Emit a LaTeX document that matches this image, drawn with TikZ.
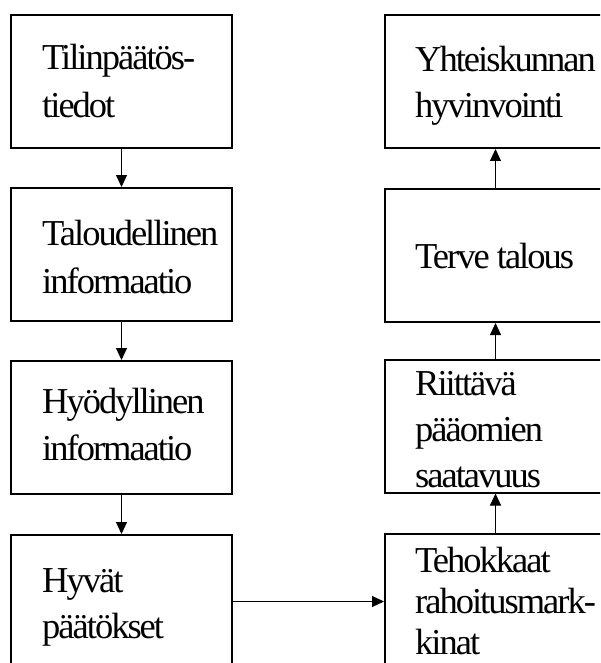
\documentclass[tikz,border=0pt]{standalone}
\usepackage{fontspec}
\setmainfont{Liberation Serif}[LetterSpace=-5.5]
\usetikzlibrary{arrows.meta}
\newcommand{\boxtext}[2]{\parbox[t]{200pt}{\raggedright\setlength{\baselineskip}{#1}\setlength{\lineskiplimit}{-100pt}#2}}
\tikzset{
  box/.style={draw=black, line width=2pt, rectangle, minimum width=221pt, minimum height=133pt, inner sep=0pt},
  txt/.style={anchor=base west, inner sep=0pt, font=\fontsize{36.5}{47}\selectfont},
  arr/.style={draw=black, line width=1pt, -{Triangle[width=11pt,length=12pt]}}
}
\begin{document}
\begin{tikzpicture}[x=1pt,y=-1pt]
\useasboundingbox (0,0) rectangle (600,663);
\clip (0,0) rectangle (600,663);
\fill[white] (0,0) rectangle (600,663);
% left column
\node[box] (l1) at (121.5,81.5) {};
\node[box] (l2) at (121.5,254.5) {};
\node[box] (l3) at (121.5,427.5) {};
\node[box] (l4) at (121.5,601.5) {};
% right column
\node[box] (r1) at (495.5,81.5) {};
\node[box] (r2) at (495.5,255.5) {};
\node[box] (r3) at (495.5,426) {};
\node[box] (r4) at (495.5,600.5) {};
% texts
\node[txt] (t1) at (42,70) {\boxtext{48pt}{Tilinpäätös-\\tiedot}};
\node[txt] (t2) at (42,245) {\boxtext{48pt}{Taloudellinen\\informaatio}};
\node[txt] (t3) at (42,413) {\boxtext{47pt}{Hyödyllinen\\informaatio}};
\node[txt] (t4) at (42,592) {\boxtext{46pt}{Hyvät\\päätökset}};
\node[txt] (s1) at (415,72) {\boxtext{46pt}{Yhteiskunnan\\hyvinvointi}};
\node[txt] (s2) at (415,268) {\boxtext{46pt}{Terve talous}};
\node[txt] (s3) at (415,395) {\boxtext{46pt}{Riittävä\\pääomien\\saatavuus}};
\node[txt] (s4) at (415,572) {\boxtext{41pt}{Tehokkaat\\rahoitusmark-\\kinat}};
% connectors
\draw[arr] (l1) -- (l2);
\draw[arr] (l2) -- (l3);
\draw[arr] (l3) -- (l4);
\draw[arr] (l4.east) -- (l4.east -| r4.west);
\draw[arr] (r4) -- (r3);
\draw[arr] (r3) -- (r2);
\draw[arr] (r2) -- (r1);
\end{tikzpicture}
\end{document}
